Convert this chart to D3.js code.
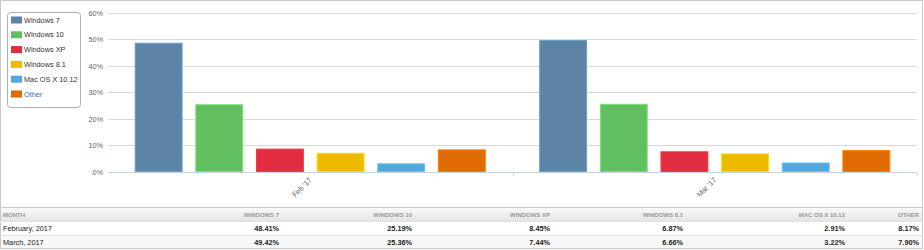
<!DOCTYPE html>
<html lang="en">
<head>
<meta charset="UTF-8">
<title>OS market share</title>
<script src="https://d3js.org/d3.v7.min.js"></script>
<style>
    body { margin: 0; background: #fff; font-family: 'Liberation Sans', Arial, sans-serif; }
    svg { display: block; }
</style>
</head>
<body>
<svg id="chart" width="924" height="250"></svg>
<script>
// data
const months = ["Feb '17", "Mar '17"];
const monthNames = ["February, 2017", "March, 2017"];
const systems = ["Windows 7", "Windows 10", "Windows XP", "Windows 8.1", "Mac OS X 10.12", "Other"];
const colors = ["#5b84a7", "#62bf5f", "#e22d40", "#edba00", "#55a6d9", "#e06b00"];
const febValues = [48.41, 25.19, 8.45, 6.87, 2.91, 8.17];
const marValues = [49.42, 25.36, 7.44, 6.66, 3.22, 7.90];
const yTicks = [0, 10, 20, 30, 40, 50, 60];

const series = [febValues, marValues];
const svg = d3.select("#chart");

// outer frame
svg.append("rect").attr("x", 0.5).attr("y", 0.5).attr("width", 922).attr("height", 248)
    .attr("fill", "none").attr("stroke", "#c8c8c8");

// scales
const x0 = d3.scaleBand().domain(months).range([108, 917]);
const x1 = d3.scaleBand().domain(systems).range([0, x0.bandwidth()])
    .paddingInner(0.21).paddingOuter(0.44);
const y = d3.scaleLinear().domain([0, 60]).range([171.5, 12.5]);

// grid
svg.append("g").selectAll("line").data(yTicks.filter(d => d > 0)).join("line")
    .attr("x1", 108).attr("x2", 917)
    .attr("y1", d => Math.round(y(d)) + 0.5).attr("y2", d => Math.round(y(d)) + 0.5)
    .attr("stroke", "#dadada");

// y labels
svg.append("g").selectAll("text").data(yTicks).join("text")
    .attr("x", 103).attr("y", d => Math.round(y(d)) + 3)
    .attr("text-anchor", "end").attr("font-size", 7.3).attr("fill", "#666")
    .text(d => d + "%");

// bars
const groups = svg.append("g").selectAll("g").data(months).join("g")
    .attr("transform", d => `translate(${x0(d)},0)`);
groups.selectAll("rect")
    .data((m, i) => systems.map((s, j) => ({ s, v: series[i][j], c: colors[j] })))
    .join("rect")
    .attr("x", d => x1(d.s) + 0.5)
    .attr("y", d => y(d.v))
    .attr("width", x1.bandwidth() - 1)
    .attr("height", d => y(0) - y(d.v))
    .attr("fill", d => d.c)
    .attr("stroke", d => d3.color(d.c).brighter(0.5))
    .attr("stroke-width", 1);

// x axis
const xAxis = svg.append("g").attr("transform", `translate(0,${Math.round(y(0)) + 0.5})`);
xAxis.append("line").attr("x1", 108).attr("x2", 917).attr("stroke", "#c5d3e0");
xAxis.selectAll("line.tick").data([x0(months[1]), 917]).join("line")
    .attr("class", "tick")
    .attr("x1", d => Math.round(d) + 0.5).attr("x2", d => Math.round(d) + 0.5)
    .attr("y1", 0).attr("y2", 3).attr("stroke", "#c5d3e0");
xAxis.selectAll("text").data(months).join("text")
    .attr("transform", d => `translate(${x0(d) + x0.bandwidth() / 2 + 2},8) rotate(-45)`)
    .attr("text-anchor", "end").attr("font-size", 7.3).attr("fill", "#666")
    .text(d => d);

// legend
const legend = svg.append("g");
legend.append("rect").attr("x", 7.5).attr("y", 12.5).attr("width", 73).attr("height", 95)
    .attr("rx", 3).attr("fill", "#fff").attr("stroke", "#b0b0b0");
const li = legend.selectAll("g").data(systems).join("g")
    .attr("transform", (d, i) => `translate(11,${20 + i * 14.8})`);
li.append("rect").attr("x", 0).attr("y", -3.5).attr("width", 11).attr("height", 7)
    .attr("fill", (d, i) => colors[i]);
li.append("text").attr("x", 13).attr("y", 2.6).attr("font-size", 7.3)
    .attr("fill", (d, i) => i === systems.length - 1 ? "#3d6e9e" : "#333")
    .text(d => d);

// table
const colRight = [279, 412, 550, 683, 845, 919];
const tTop = 207;
const defs = svg.append("defs");
const grad = defs.append("linearGradient").attr("id", "hdr").attr("x1", 0).attr("x2", 0).attr("y1", 0).attr("y2", 1);
grad.append("stop").attr("offset", "0%").attr("stop-color", "#fbfbfb");
grad.append("stop").attr("offset", "100%").attr("stop-color", "#e4e4e4");

const table = svg.append("g");
table.append("rect").attr("x", 1).attr("y", tTop).attr("width", 921).attr("height", 14).attr("fill", "url(#hdr)");
table.append("rect").attr("x", 1).attr("y", tTop + 28).attr("width", 921).attr("height", 13).attr("fill", "#f8f8f8");
[tTop, tTop + 14, tTop + 28].forEach((ly, i) => {
    table.append("line").attr("x1", 0).attr("x2", 923)
        .attr("y1", ly + 0.5).attr("y2", ly + 0.5)
        .attr("stroke", i === 0 ? "#c8c8c8" : "#e2e2e2");
});

table.append("text").attr("x", 3).attr("y", tTop + 9.5).attr("font-size", 6)
    .attr("font-weight", "bold").attr("fill", "#999").text("MONTH");
table.selectAll("text.hd").data(systems).join("text").attr("class", "hd")
    .attr("x", (d, i) => colRight[i]).attr("y", tTop + 9.5)
    .attr("text-anchor", "end").attr("font-size", 6).attr("font-weight", "bold").attr("fill", "#999")
    .text(d => d.toUpperCase());

monthNames.forEach((m, r) => {
    const ry = tTop + 14 + r * 14 + 9.8;
    table.append("text").attr("x", 3).attr("y", ry).attr("font-size", 7.3).attr("fill", "#222").text(m);
    table.selectAll(null).data(series[r]).join("text")
        .attr("x", (d, i) => colRight[i]).attr("y", ry)
        .attr("text-anchor", "end").attr("font-size", 7.3).attr("font-weight", "bold").attr("fill", "#222")
        .text(d => d.toFixed(2) + "%");
});
</script>
</body>
</html>
